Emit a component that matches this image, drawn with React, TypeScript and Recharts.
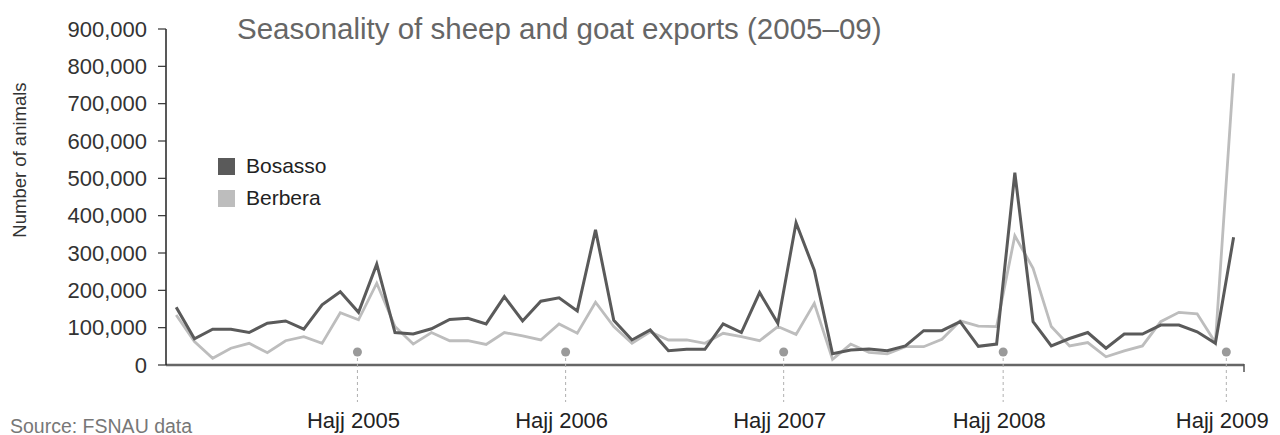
import React from 'react';
import { LineChart, Line, XAxis, YAxis, Legend } from 'recharts';

// monthly exports, in animals (index = month number in the series)
const bosasso = [
  155000, 70000, 96000, 96000, 87000, 112000, 118000, 96000, 161000, 196000, 141000, 270000, 87000, 83000, 97000,
  122000, 125000, 110000, 183000, 118000, 171000, 180000, 145000, 362000, 120000, 67000, 94000, 38000, 42000, 42000,
  110000, 87000, 194000, 112000, 381000, 254000, 30000, 40000, 43000, 38000, 51000, 92000, 92000, 116000, 50000,
  56000, 515000, 116000, 51000, 71000, 87000, 45000, 83000, 83000, 107000, 107000, 89000, 58000, 342000,
];

const berbera = [
  134000, 63000, 18000, 45000, 58000, 33000, 65000, 76000, 58000, 140000, 121000, 219000, 103000, 56000, 87000,
  65000, 65000, 55000, 87000, 78000, 67000, 110000, 85000, 168000, 103000, 58000, 89000, 67000, 67000, 58000,
  85000, 76000, 65000, 103000, 82000, 165000, 15000, 56000, 34000, 30000, 49000, 49000, 69000, 118000, 104000,
  103000, 346000, 259000, 103000, 51000, 60000, 22000, 38000, 51000, 116000, 141000, 137000, 60000, 781000,
];

// when each Hajj fell, measured in months along the series
const hajjMonths = [9.94, 21.36, 33.32, 45.36, 57.6];
const hajjLabels = ['Hajj 2005', 'Hajj 2006', 'Hajj 2007', 'Hajj 2008', 'Hajj 2009'];

const yTicks = [0, 100000, 200000, 300000, 400000, 500000, 600000, 700000, 800000, 900000];
const xDomain: [number, number] = [-0.56, 58.57];

const series = [
  { key: 'berbera', name: 'Berbera', color: '#bdbdbd', width: 2.8 },
  { key: 'bosasso', name: 'Bosasso', color: '#5a5a5a', width: 3 },
];

const data = bosasso.map((v, i) => ({ month: i, bosasso: v, berbera: berbera[i] }));

const HajjTick = (props: any) => {
  const { x, y, index } = props;
  if (index >= hajjLabels.length) {
    // small closing mark at the end of the axis
    return <line x1={x} y1={y - 1} x2={x} y2={y + 7} stroke="#555" strokeWidth={1.5} />;
  }
  return (
    <g>
      <line x1={x} y1={y - 13} x2={x} y2={y + 37} stroke="#b0b0b0" strokeWidth={1} strokeDasharray="3 3" />
      <circle cx={x} cy={y - 13} r={4.5} fill="#9a9a9a" />
      <text x={x - 4} y={y + 63} textAnchor="middle" fontSize={22} fill="#222">
        {hajjLabels[index]}
      </text>
    </g>
  );
};

const renderLegend = () => (
  <div>
    {['Bosasso', 'Berbera'].map((name) => {
      const s = series.find((d) => d.name === name)!;
      return (
        <div key={name} style={{ display: 'flex', alignItems: 'center', height: 32 }}>
          <span style={{ width: 17, height: 17, background: s.color, display: 'inline-block', marginRight: 11 }} />
          <span style={{ fontSize: 21, color: '#222' }}>{name}</span>
        </div>
      );
    })}
  </div>
);

const App: React.FC = () => {
  return (
    <div
      style={{
        position: 'relative',
        width: 1280,
        height: 435,
        fontFamily: '"Liberation Sans", Arial, sans-serif',
        background: '#fff',
      }}
    >
      <style>{'body{margin:0}'}</style>
      <div style={{ position: 'absolute', left: 237, top: 14, fontSize: 29.5, lineHeight: '29.5px', color: '#666', whiteSpace: 'nowrap' }}>
        Seasonality of sheep and goat exports (2005–09)
      </div>
      <div
        style={{
          position: 'absolute',
          left: 20,
          top: 160,
          fontSize: 18.5,
          color: '#333',
          whiteSpace: 'nowrap',
          transform: 'translate(-50%, -50%) rotate(-90deg)',
        }}
      >
        Number of animals
      </div>
      <div style={{ position: 'absolute', left: 10, top: 417, fontSize: 19.5, lineHeight: '19.5px', color: '#777', whiteSpace: 'nowrap' }}>
        Source: FSNAU data
      </div>
      <LineChart width={1280} height={435} data={data} margin={{ top: 29, right: 36, bottom: 0, left: 0 }}>
        <XAxis
          dataKey="month"
          type="number"
          domain={xDomain}
          ticks={[...hajjMonths, xDomain[1]]}
          interval={0}
          tick={<HajjTick />}
          tickLine={false}
          tickSize={0}
          tickMargin={0}
          height={70}
          axisLine={{ stroke: '#666', strokeWidth: 2.5 }}
        />
        <YAxis
          domain={[0, 900000]}
          ticks={yTicks}
          interval={0}
          width={166}
          tickSize={8}
          tickMargin={11}
          tickFormatter={(v: number) => v.toLocaleString('en-US')}
          tick={{ fontSize: 22, fill: '#333' }}
          axisLine={{ stroke: '#222', strokeWidth: 1.5 }}
          tickLine={{ stroke: '#333', strokeWidth: 1.2 }}
        />
        <Legend
          layout="vertical"
          align="center"
          verticalAlign="middle"
          content={renderLegend}
          wrapperStyle={{ left: 218, top: 150, width: 'auto' }}
        />
        {series.map((s) => (
          <Line
            key={s.key}
            type="linear"
            dataKey={s.key}
            name={s.name}
            stroke={s.color}
            strokeWidth={s.width}
            dot={false}
            isAnimationActive={false}
          />
        ))}
      </LineChart>
    </div>
  );
};

export default App;
